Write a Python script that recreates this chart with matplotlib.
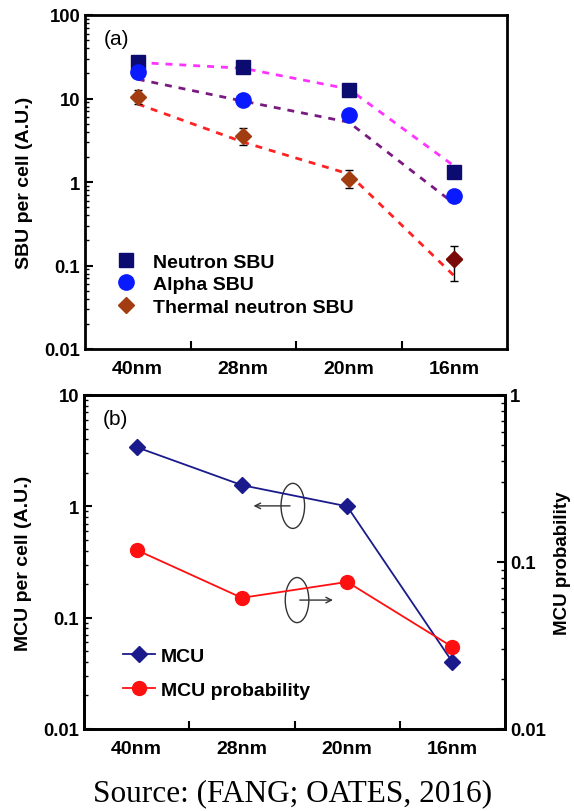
import matplotlib
matplotlib.use("Agg")
import matplotlib.pyplot as plt
import numpy as np
from matplotlib.patches import Ellipse

plt.rcParams['font.family'] = ['Liberation Sans', 'DejaVu Sans']

nodes = ['40nm', '28nm', '20nm', '16nm']

# (a) SBU per cell
neutron = [27, 24, 12.5, 1.3]
neutron_err = [2.5, 2.5, 1.5, 0.15]
alpha = [20.5, 9.5, 6.3, 0.68]
alpha_err = [2.5, 1.0, 0.8, 0.08]
thermal = [10.5, 3.6, 1.1, 0.12]
thermal_lo = [2.0, 0.8, 0.25, 0.055]
thermal_hi = [2.2, 0.8, 0.3, 0.05]
# dashed trend curves
neutron_fit = [27, 23, 13, 1.55]
alpha_fit = [17, 9.3, 5.2, 0.55]
thermal_fit = [8.6, 3.0, 1.25, 0.075]

# (b) MCU
mcu = [3.4, 1.55, 1.0, 0.04]
mcu_prob = [0.118, 0.061, 0.076, 0.031]

fig = plt.figure(figsize=(5.74, 8.12), dpi=100)
W, H = 574, 812
ax1 = fig.add_axes([85 / W, (H - 350) / H, 422 / W, 334 / H])
ax2 = fig.add_axes([84 / W, (H - 730) / H, 421 / W, 334 / H])

x = np.arange(len(nodes))
dash = (0, (2.5, 2.5))
FS = 14

ax1.plot(x, neutron_fit, color='#ff33ff', lw=2, ls=dash)
ax1.plot(x, alpha_fit, color='#7a1a80', lw=2, ls=dash)
ax1.plot(x, thermal_fit, color='#ff2222', lw=2, ls=dash)

ax1.errorbar(x, neutron, yerr=neutron_err, fmt='none', ecolor='black',
             elinewidth=1, capsize=3)
ax1.errorbar(x, alpha, yerr=alpha_err, fmt='none', ecolor='black',
             elinewidth=1, capsize=3)
ax1.errorbar(x, thermal, yerr=[thermal_lo, thermal_hi], fmt='none', ecolor='black',
             elinewidth=1, capsize=3)
ax1.plot(x, neutron, 's', color='#0b0b70', ms=10, ls='none', label='Neutron SBU')
ax1.plot(x, alpha, 'o', color='#0a1aff', ms=11, ls='none', label='Alpha SBU')
ax1.plot(x, thermal, 'D', color='#a23d12', ms=8, ls='none', label='Thermal neutron SBU')
ax1.plot(x[-1:], thermal[-1:], 'D', color='#7a0a0a', ms=8)

ax1.set_yscale('log')
ax1.set_ylim(0.01, 100)
ax1.set_ylabel('SBU per cell (A.U.)', fontsize=FS, fontweight='bold', labelpad=8)
ax1.text(0.045, 0.93, '(a)', transform=ax1.transAxes, fontsize=15, va='center')
ax1.legend(loc='lower left', bbox_to_anchor=(0.063, 0.10), frameon=False,
           prop={'weight': 'bold', 'size': FS}, handletextpad=0.64,
           labelspacing=0.25, borderaxespad=0, borderpad=0, handlelength=1.5)

ax2.plot(x, mcu, '-D', color='#1a1a8c', ms=8, lw=1.3, label='MCU')
ax2.set_yscale('log')
ax2.set_ylim(0.01, 10)
ax2.set_ylabel('MCU per cell (A.U.)', fontsize=FS, fontweight='bold', labelpad=8)
ax2.text(0.045, 0.93, '(b)', transform=ax2.transAxes, fontsize=15, va='center')

ax3 = ax2.twinx()
ax3.plot(x, mcu_prob, '-o', color='#ff1010', ms=10, lw=1.3, label='MCU probability')
ax3.set_yscale('log')
ax3.set_ylim(0.01, 1)
ax3.set_ylabel('MCU probability', fontsize=13.5, fontweight='bold', labelpad=6)
ax3.set_yticks([0.01, 0.1, 1])
ax3.set_yticklabels(['0.01', '0.1', '1'])

h1, l1 = ax2.get_legend_handles_labels()
h2, l2 = ax3.get_legend_handles_labels()
ax2.legend(h1 + h2, l1 + l2, loc='lower left', bbox_to_anchor=(0.093, 0.09),
           frameon=False, prop={'weight': 'bold', 'size': FS}, handlelength=1.65,
           handletextpad=0.3, labelspacing=0.85, borderaxespad=0, borderpad=0)

# ellipse + arrow markers showing which axis each curve uses
for cx, cy, dx in [(0.496, 0.668, -0.1), (0.506, 0.386, 0.092)]:
    ax2.add_patch(Ellipse((cx, cy), 0.056, 0.135, transform=ax2.transAxes,
                          fill=False, ec='#333333', lw=1))
    ax2.annotate('', xy=(cx + dx, cy), xytext=(cx, cy), xycoords='axes fraction',
                 arrowprops=dict(arrowstyle='->', color='#333333', lw=1))

for ax in (ax1, ax2):
    ax.set_xlim(-0.5, 3.5)
    ax.set_xticks([0.5, 1.5, 2.5])
    ax.set_xticklabels([])
    ax.set_xticks(x, minor=True)
    ax.set_xticklabels(nodes, minor=True, fontsize=FS, fontweight='bold')
    ax.tick_params(axis='x', which='minor', length=0, pad=8)
    ax.tick_params(axis='x', which='major', direction='in', length=6, width=1.5)
    ax.tick_params(axis='y', which='both', direction='in', labelsize=13.3)
    ax.tick_params(axis='y', which='major', length=6, width=1.5)
    ax.tick_params(axis='y', which='minor', length=3, width=1)
    for s in ax.spines.values():
        s.set_linewidth(2)

ax1.set_yticks([0.01, 0.1, 1, 10, 100])
ax1.set_yticklabels(['0.01', '0.1', '1', '10', '100'], fontweight='bold')
ax2.set_yticks([0.01, 0.1, 1, 10])
ax2.set_yticklabels(['0.01', '0.1', '1', '10'], fontweight='bold')
ax3.tick_params(axis='y', which='both', direction='in', labelsize=13.3)
ax3.tick_params(axis='y', which='major', length=6, width=1.5)
ax3.tick_params(axis='y', which='minor', length=3, width=1)
for lab in ax3.get_yticklabels():
    lab.set_fontweight('bold')
for s in ax3.spines.values():
    s.set_linewidth(2)

fig.text(293 / W, (H - 794) / H, 'Source: (FANG; OATES, 2016)', ha='center', va='center',
         fontsize=22.5, family=['Liberation Serif', 'DejaVu Serif'])

fig.savefig('out.png', dpi=100)
